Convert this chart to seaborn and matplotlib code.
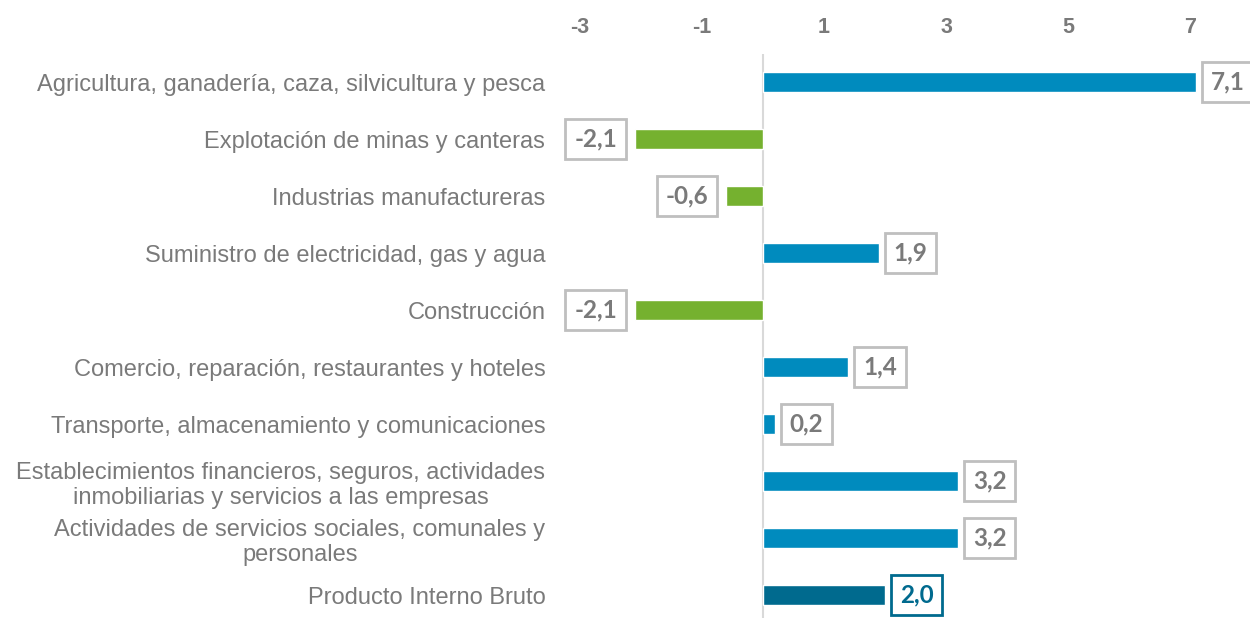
import matplotlib
matplotlib.use("Agg")
import matplotlib.pyplot as plt
import seaborn as sns
import pandas as pd

sectores = [
    "Agricultura, ganadería, caza, silvicultura y pesca",
    "Explotación de minas y canteras",
    "Industrias manufactureras",
    "Suministro de electricidad, gas y agua",
    "Construcción",
    "Comercio, reparación, restaurantes y hoteles",
    "Transporte, almacenamiento y comunicaciones",
    "Establecimientos financieros, seguros, actividades\ninmobiliarias y servicios a las empresas",
    "Actividades de servicios sociales, comunales y\npersonales",
    "Producto Interno Bruto",
]
variacion = [7.1, -2.1, -0.6, 1.9, -2.1, 1.4, 0.2, 3.2, 3.2, 2.0]
ticks = [-3, -1, 1, 3, 5, 7]

AZUL = "#008BBE"
VERDE = "#75B12F"
PIB = "#006A8E"
GRIS_TXT = "#7A7A7A"
GRIS_BORDE = "#BFBFBF"

colores = []
for nombre, v in zip(sectores, variacion):
    if nombre == "Producto Interno Bruto":
        colores.append(PIB)
    elif v < 0:
        colores.append(VERDE)
    else:
        colores.append(AZUL)

df = pd.DataFrame({"sector": sectores, "variacion": variacion})

sns.set_theme(style="white")
plt.rcParams["font.family"] = ["Liberation Sans", "DejaVu Sans"]

fig = plt.figure(figsize=(12.5, 6.18), dpi=100)
ax = fig.add_axes([0.444, -0.0089, 0.556, 0.9223])

sns.barplot(data=df, x="variacion", y="sector", hue="sector",
            palette=colores, legend=False, orient="h", width=0.35,
            saturation=1, ax=ax)

ax.set_xlim(-3.41, 7.98)
ax.set_ylim(9.5, -0.5)
ax.set_xticks(ticks)
ax.set_xticklabels([str(t) for t in ticks])
ax.xaxis.tick_top()
ax.tick_params(axis="x", length=0, pad=11, labelsize=15.5, colors=GRIS_TXT)
for lab in ax.get_xticklabels():
    lab.set_fontweight("bold")
ax.tick_params(axis="y", length=0, pad=7, labelsize=17, colors=GRIS_TXT)
for lab in ax.get_yticklabels():
    lab.set_multialignment("center")
ax.set_xlabel("")
ax.set_ylabel("")
for s in ax.spines.values():
    s.set_visible(False)
ax.axvline(0, color="#D9D9D9", lw=1.5, zorder=0)
ax.grid(False)

# Value labels in boxed tags next to each bar
for i, (nombre, v) in enumerate(zip(sectores, variacion)):
    es_pib = nombre == "Producto Interno Bruto"
    txt_color = PIB if es_pib else GRIS_TXT
    borde = PIB if es_pib else GRIS_BORDE
    off = 10.5 if v >= 0 else -13
    ax.annotate(f"{v:.1f}".replace(".", ","), xy=(v, i),
                xytext=(off, 0), textcoords="offset points",
                ha="left" if v >= 0 else "right", va="center",
                fontsize=17.5, fontweight="bold", color=txt_color,
                family=["Lato", "DejaVu Sans"],
                bbox=dict(boxstyle="square,pad=0.36", fc="white",
                          ec=borde, lw=2),
                annotation_clip=False, clip_on=False)

fig.savefig("out.png", dpi=100)
